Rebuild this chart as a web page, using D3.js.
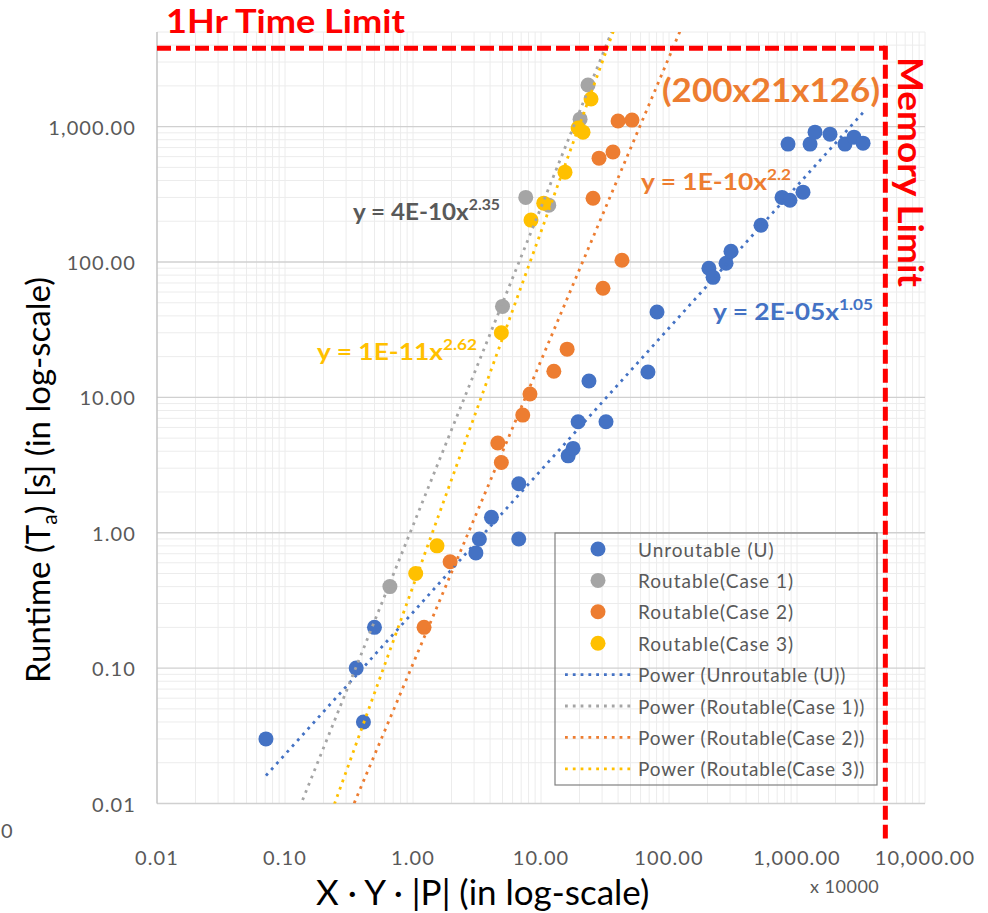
<!DOCTYPE html>
<html>
<head>
<meta charset="utf-8">
<script src="https://cdn.jsdelivr.net/npm/d3@7"></script>
<style>
  body { margin: 0; background: #fff; }
  svg { display: block; font-family: Lato, "Open Sans", sans-serif; }
</style>
</head>
<body>
<div id="vis"></div>
<script>
// values (x shown in units of 10000)
const unroutableX = [0.071, 0.36, 0.50, 0.41, 3.1, 3.3, 4.1, 6.7, 6.7, 16.3, 17.8, 19.5, 23.7, 32.2, 68.5, 80.6,
  205, 221, 279, 305, 523, 764, 881, 1114, 851, 1265, 1383, 1811, 2371, 2787, 3283];
const unroutableY = [0.030, 0.10, 0.20, 0.040, 0.71, 0.90, 1.3, 2.3, 0.90, 3.7, 4.2, 6.6, 13.2, 6.6, 15.4, 42.7,
  90, 77, 98, 120, 187, 300, 286, 328, 743, 743, 910, 880, 743, 836, 755];

const case1X = [0.66, 5.0, 7.6, 11.5, 20.2, 23.3];
const case1Y = [0.40, 47, 300, 263, 1135, 2030];

const case2X = [1.22, 1.95, 4.6, 4.9, 7.2, 8.2, 12.6, 16.0, 25.5, 28.4, 30.5, 36.5, 40, 42.9, 51.4];
const case2Y = [0.20, 0.61, 4.6, 3.3, 7.4, 10.6, 15.6, 22.7, 296, 585, 64, 650, 1100, 103, 1117];

const case3X = [1.05, 1.54, 4.9, 8.35, 10.5, 15.4, 19.5, 21.3, 24.6];
const case3Y = [0.50, 0.80, 30, 204, 272, 461, 975, 910, 1600];

const seriesNames = ["Unroutable (U)", "Routable(Case 1)", "Routable(Case 2)", "Routable(Case 3)"];
const seriesColors = ["#4472C4", "#A5A5A5", "#ED7D31", "#FFC000"];

// power trendlines y = a * (x * 10000)^b
const trendCoef = [1.63e-5, 4.5e-10, 1.18e-10, 1.33e-11];
const trendExp = [1.05, 2.35, 2.24, 2.62];
const trendForecast = [false, true, true, true]; // run to the plot edges
const eqLabels = [
  { pre: "y = 2E-05x", sup: "1.05" },
  { pre: "y = 4E-10x", sup: "2.35" },
  { pre: "y = 1E-10x", sup: "2.2" },
  { pre: "y = 1E-11x", sup: "2.62" }
];
const displayUnit = 10000;

const timeLimit = 3800;
const memoryLimit = 4900;

const xTickLabels = ["0.01", "0.10", "1.00", "10.00", "100.00", "1,000.00", "10,000.00"];
const yTickLabels = ["0.01", "0.10", "1.00", "10.00", "100.00", "1,000.00"];

const W = 988, H = 913;
const plot = { left: 157, right: 925, top: 32, bottom: 803.5 };

const svg = d3.select("#vis").append("svg").attr("width", W).attr("height", H);

const x = d3.scaleLog().domain([0.01, 10000]).range([plot.left, plot.right]);
const y = d3.scaleLog().domain([0.01, 5000]).range([plot.bottom, plot.top]);

const isMajor = v => Math.abs(Math.log10(v) - Math.round(Math.log10(v))) < 1e-9;

// gridlines
const grid = svg.append("g");
grid.selectAll(".vx").data(x.ticks()).join("line")
  .attr("x1", d => x(d)).attr("x2", d => x(d))
  .attr("y1", plot.top).attr("y2", plot.bottom)
  .attr("stroke", "#ececec").attr("stroke-width", 1);
grid.selectAll(".hy").data(y.ticks().filter(d => !isMajor(d))).join("line")
  .attr("x1", plot.left).attr("x2", plot.right)
  .attr("y1", d => y(d)).attr("y2", d => y(d))
  .attr("stroke", "#ececec").attr("stroke-width", 1);
grid.selectAll(".hmaj").data(y.ticks().filter(isMajor)).join("line")
  .attr("x1", plot.left).attr("x2", plot.right)
  .attr("y1", d => y(d)).attr("y2", d => y(d))
  .attr("stroke", "#d0d0d0").attr("stroke-width", 1.3);
grid.append("line")
  .attr("x1", plot.left).attr("x2", plot.left).attr("y1", plot.top).attr("y2", plot.bottom)
  .attr("stroke", "#bfbfbf").attr("stroke-width", 1.3);

// tick labels
const xMajors = x.ticks().filter(isMajor);
svg.append("g").selectAll("text").data(xMajors).join("text")
  .attr("x", d => x(d)).attr("y", 857)
  .attr("text-anchor", "middle").attr("dominant-baseline", "central")
  .attr("font-size", 20).attr("letter-spacing", 1.1).attr("fill", "#595959")
  .text((d, i) => xTickLabels[i]);
const yMajors = y.ticks().filter(isMajor);
svg.append("g").selectAll("text").data(yMajors).join("text")
  .attr("x", 136).attr("y", d => y(d))
  .attr("text-anchor", "end").attr("dominant-baseline", "central")
  .attr("font-size", 20).attr("letter-spacing", 1.1).attr("fill", "#595959")
  .text((d, i) => yTickLabels[i]);

// markers
const allX = [unroutableX, case1X, case2X, case3X];
const allY = [unroutableY, case1Y, case2Y, case3Y];
allX.forEach((xs, s) => {
  svg.append("g").selectAll("circle").data(xs.map((v, i) => [v, allY[s][i]])).join("circle")
    .attr("cx", d => x(d[0])).attr("cy", d => y(d[1])).attr("r", 7.5)
    .attr("fill", seriesColors[s]);
});

// trendlines, clipped to the plot area
svg.append("clipPath").attr("id", "plotclip").append("rect")
  .attr("x", plot.left).attr("y", plot.top)
  .attr("width", plot.right - plot.left).attr("height", plot.bottom - plot.top);
const trendG = svg.append("g").attr("clip-path", "url(#plotclip)");
allX.forEach((xs, s) => {
  const ext = trendForecast[s] ? x.domain() : d3.extent(xs);
  const f = v => trendCoef[s] * Math.pow(v * displayUnit, trendExp[s]);
  trendG.append("path")
    .datum(ext)
    .attr("fill", "none").attr("stroke", seriesColors[s])
    .attr("stroke-width", 2.8).attr("stroke-dasharray", "2.8 5")
    .attr("d", d3.line().x(d => x(d)).y(d => y(f(d))));
});

// equation labels
const eqPos = [[713, 320], [353, 220], [641, 190], [317, 360]];
const eqWidth = [160, 147, 150, 160];
const eqColors = ["#4472C4", "#595959", "#ED7D31", "#FFC000"];
eqLabels.forEach((e, s) => {
  const t = svg.append("text")
    .attr("x", eqPos[s][0]).attr("y", eqPos[s][1])
    .attr("font-size", 23).attr("font-weight", "bold").attr("fill", eqColors[s])
    .attr("textLength", eqWidth[s]).attr("lengthAdjust", "spacingAndGlyphs");
  t.append("tspan").text(e.pre);
  t.append("tspan").attr("dy", -10).attr("font-size", 15).text(e.sup);
});

// limits
svg.append("line")
  .attr("x1", plot.left).attr("x2", x(memoryLimit))
  .attr("y1", y(timeLimit)).attr("y2", y(timeLimit))
  .attr("stroke", "#FF0000").attr("stroke-width", 5).attr("stroke-dasharray", "14 5");
svg.append("line")
  .attr("x1", x(memoryLimit)).attr("x2", x(memoryLimit))
  .attr("y1", y(timeLimit) - 2.5).attr("y2", plot.bottom + 35)
  .attr("stroke", "#FF0000").attr("stroke-width", 5).attr("stroke-dasharray", "14 5");

svg.append("text").attr("x", 166).attr("y", 33)
  .attr("font-size", 33).attr("font-weight", "bold").attr("fill", "#FF0000")
  .attr("textLength", 239).attr("lengthAdjust", "spacingAndGlyphs")
  .text("1Hr Time Limit");
svg.append("text").attr("transform", "translate(898,57) rotate(90)")
  .attr("font-size", 35).attr("font-weight", "bold").attr("fill", "#FF0000")
  .attr("textLength", 230).attr("lengthAdjust", "spacingAndGlyphs")
  .text("Memory Limit");
svg.append("text").attr("x", 662).attr("y", 102)
  .attr("font-size", 32).attr("font-weight", "bold").attr("fill", "#ED7D31")
  .attr("textLength", 218).attr("lengthAdjust", "spacingAndGlyphs")
  .text("(200x21x126)");

// legend
const legend = svg.append("g");
legend.append("rect").attr("x", 555).attr("y", 533).attr("width", 322).attr("height", 252)
  .attr("fill", "none").attr("stroke", "#808080").attr("stroke-width", 1.2);
const rowY = i => 549 + i * 31.4;
seriesNames.forEach((name, i) => {
  legend.append("circle").attr("cx", 598).attr("cy", rowY(i)).attr("r", 7.5).attr("fill", seriesColors[i]);
  legend.append("text").attr("x", 638).attr("y", rowY(i)).attr("dominant-baseline", "central")
    .attr("font-size", 19).attr("letter-spacing", 1).attr("fill", "#595959").text(name);
  const j = i + 4;
  legend.append("line").attr("x1", 565).attr("x2", 631).attr("y1", rowY(j)).attr("y2", rowY(j))
    .attr("stroke", seriesColors[i]).attr("stroke-width", 2.8).attr("stroke-dasharray", "2.8 5");
  legend.append("text").attr("x", 638).attr("y", rowY(j)).attr("dominant-baseline", "central")
    .attr("font-size", 19).attr("letter-spacing", 0.8).attr("fill", "#595959").text(`Power (${name})`);
});

// axis titles
const yt = svg.append("text").attr("transform", "translate(50,683) rotate(-90)")
  .attr("font-size", 33).attr("fill", "#000");
yt.append("tspan").text("Runtime (T");
yt.append("tspan").attr("font-size", 21).attr("dy", 7).text("a");
yt.append("tspan").attr("dy", -7).text(") [s] (in log-scale)");

svg.append("text").attr("x", 316).attr("y", 905)
  .attr("font-size", 35).attr("fill", "#000")
  .text("X · Y · |P| (in log-scale)");
svg.append("text").attr("x", 810).attr("y", 893)
  .attr("font-size", 18).attr("letter-spacing", 0.5).attr("fill", "#595959").text("x 10000");

// fragment of a neighbouring label at the left edge
svg.append("text").attr("x", 1).attr("y", 838)
  .attr("font-size", 20).attr("fill", "#595959").text("0");
</script>
</body>
</html>
